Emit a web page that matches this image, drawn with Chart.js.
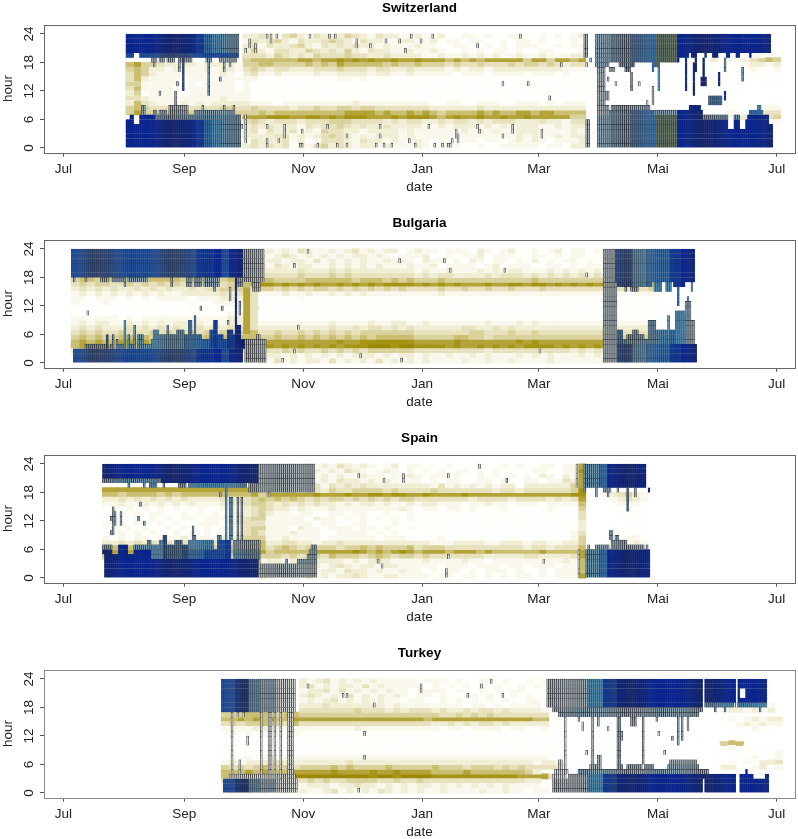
<!DOCTYPE html>
<html>
<head>
<meta charset="utf-8">
<title>hour by date</title>
<script src="https://cdn.jsdelivr.net/npm/chart.js@4"></script>
<style>
  html, body { margin: 0; background: #fff; }
  canvas { display: block; }
</style>
</head>
<body>
<canvas id="c0" width="798" height="215"></canvas>
<canvas id="c1" width="798" height="215"></canvas>
<canvas id="c2" width="798" height="215"></canvas>
<canvas id="c3" width="798" height="194"></canvas>
<script>
const hourTicks = [0, 6, 12, 18, 24];
const dateTicks = [0, 62, 123, 184, 244, 305, 366];
const dateLabels = ['Jul', 'Sep', 'Nov', 'Jan', 'Mar', 'Mai', 'Jul'];

// olive intensity, one string per hour (23 at the top), one digit per 4 days
const swissStart = 32;
const swissOlive = [
  '000000000000000334324532433354324332232231122121122112121230001000100000000000000000',
  '000000000000000243453243345432433223322312212211212212111210010000100000000000000000',
  '000000000000000342433453243434332322232211221121212221121220000100000100000000000000',
  '000000000000000353244335434353243322322321121212212112211120010000000100000000000000',
  '000000000000000444354343544454433433332232232323223223222330000100000001000100012200',
  '000000000000000566666677677878787787787776767677777577577670000000000000000312234565',
  '675543333233332556655556565766666565565554544544454554543440000000000000100101123323',
  '565332322232332454344333444544434433433332323323333333332220000000000000010001002112',
  '465322222222321342232222322333323322322222122212222122212110000000000000010010001011',
  '463222212222222221111111111221211111111111111111111111111110001000000000000010010101',
  '552222212122221211111011111111111111011101101111110111011110000000000100000100100011',
  '462222112222221211010101111111010111011011010111011101101110000000001000000000000000',
  '351222112222222211111011101110111111101010101101110110110110000000000000100000100000',
  '443222222222322211111111111111111111111111111111111111111110000000000000000001000000',
  '364322232323333322212222222223222222222112211222112221212220000000000000000000000001',
  '565444444444554454444344544554554444444333333433333333333330000000000000001001001222',
  '575555555555555556566666666677776766767656666767667767766660000000000000000002102344',
  '000000000000000777888778878788877787888767877877877877777550000000000000000002334445',
  '000000000000000454344434445554444343443343443434443334332440000000000000000000000022',
  '000000000000000343433324344543433433332232333232323332232330000000000000000000000001',
  '000000000000000342433423254433233332322222232323223332222320000000000000000000000000',
  '000000000000000333344232345432323332322222222222223232232330000000000000000000000000',
  '000000000000000243334231244432433232232122122122123232122230000000000000000000000000',
  '000000000000000343434132453432332322232112211211222221221330000000000000000000000000'
];
// [first day, last day, level]
const swissShades = [[32, 67, 9], [68, 71, 8], [72, 75, 6], [76, 80, 5], [81, 91, 4], [262, 272, 2], [273, 280, 3], [281, 290, 4], [291, 303, 6], [304, 314, 10], [315, 364, 9]];
// outlined cells: [first day, last day, first hour, last hour, level]
const swissBoxes = [
  [32, 89, 20, 23], [32, 35, 19, 19, 7], [39, 89, 19, 19, 7], [45, 47, 18, 18, 2], [49, 51, 18, 18, 2], [53, 56, 18, 18, 2], [59, 65, 18, 18, 3], [73, 75, 18, 18, 3], [80, 88, 18, 18, 2],
  [46, 46, 17, 17, 2], [59, 59, 16, 17, 2], [82, 82, 16, 17, 2], [85, 85, 17, 17, 2], [61, 61, 12, 18, 7], [74, 74, 11, 17, 4], [80, 80, 14, 14, 3], [58, 58, 13, 13, 2], [49, 49, 11, 11, 2], [57, 57, 9, 11, 3],
  [32, 35, 0, 5], [36, 38, 0, 4], [39, 90, 0, 5], [34, 35, 6, 6], [39, 46, 6, 6], [47, 90, 6, 6, 4], [40, 41, 7, 8, 3], [46, 47, 7, 7, 3], [49, 52, 7, 7, 3], [54, 63, 7, 7, 3], [54, 63, 8, 8, 2], [67, 77, 7, 7, 3], [71, 71, 8, 8, 2], [78, 87, 7, 7, 3], [82, 82, 8, 8, 2], [87, 87, 8, 8, 2],
  [91, 91, 4, 4, 1], [93, 93, 1, 6, 1], [93, 93, 20, 20, 1], [95, 95, 21, 22, 1], [98, 98, 20, 21, 1], [104, 104, 23, 23, 1], [106, 106, 22, 23, 1], [109, 109, 23, 23, 1], [126, 126, 23, 23, 1], [136, 136, 23, 23, 1], [139, 139, 23, 23, 1], [150, 150, 21, 22, 1], [157, 157, 21, 21, 1], [165, 165, 22, 22, 1], [172, 172, 22, 22, 1],
  [104, 104, 4, 4, 1], [104, 104, 0, 1, 1], [110, 110, 1, 1, 1], [113, 113, 2, 4, 1], [122, 122, 3, 3, 1], [121, 122, 0, 0, 1], [130, 130, 0, 0, 1], [135, 135, 4, 4, 1], [140, 140, 0, 0, 1], [145, 145, 2, 2, 1], [145, 145, 0, 0, 1], [160, 160, 0, 0, 1], [162, 162, 4, 4, 1], [162, 162, 2, 2, 1], [164, 164, 0, 0, 1], [168, 168, 0, 0, 1],
  [178, 178, 23, 23, 1], [183, 183, 22, 22, 1], [189, 189, 23, 23, 1], [175, 175, 20, 20, 1], [212, 212, 21, 21, 1], [234, 234, 23, 23, 1], [255, 255, 17, 17, 1], [268, 268, 17, 17, 1], [225, 225, 13, 13, 1], [238, 238, 13, 13, 1], [249, 249, 10, 10, 1],
  [187, 187, 4, 4, 1], [177, 177, 1, 1, 1], [180, 180, 0, 0, 1], [190, 190, 0, 0, 1], [194, 194, 0, 0, 1], [197, 198, 0, 0, 1], [199, 199, 1, 1, 1], [201, 201, 2, 3, 1], [202, 202, 1, 2, 1], [212, 212, 4, 4, 1], [213, 213, 3, 3, 1], [225, 225, 2, 2, 1], [230, 230, 3, 4, 1], [245, 245, 2, 3, 1],
  [267, 268, 19, 23, 2], [268, 269, 0, 5, 2], [270, 270, 18, 18, 2],
  [273, 315, 19, 23], [273, 315, 18, 18], [273, 279, 17, 17], [285, 292, 17, 17], [302, 305, 17, 17], [288, 290, 16, 16], [274, 277, 9, 16, 2], [279, 279, 14, 14, 2], [280, 282, 16, 16, 2], [283, 283, 13, 13, 1], [291, 291, 12, 15, 4], [295, 295, 13, 13, 1], [299, 299, 9, 9, 1], [302, 302, 9, 12, 2], [302, 302, 16, 16], [305, 305, 12, 16, 5], [278, 279, 10, 11, 2],
  [316, 362, 20, 23], [316, 320, 19, 19], [322, 324, 19, 19], [329, 329, 19, 19], [333, 335, 19, 19], [340, 341, 19, 19], [345, 346, 19, 19], [352, 352, 19, 19], [319, 319, 12, 18], [323, 323, 11, 17], [324, 324, 16, 18], [327, 329, 13, 14], [328, 328, 15, 18], [336, 336, 13, 15], [339, 339, 16, 18, 4], [339, 339, 10, 11], [348, 348, 14, 16, 4], [331, 337, 9, 10, 6],
  [274, 314, 0, 5], [274, 314, 6, 6], [274, 279, 7, 8, 2], [280, 302, 7, 7], [281, 300, 8, 8, 3], [303, 314, 7, 7, 3], [315, 340, 0, 5], [315, 327, 6, 7], [321, 326, 8, 8], [328, 340, 6, 6, 4], [341, 343, 0, 3], [344, 346, 0, 5], [344, 346, 6, 6, 4], [347, 349, 0, 3], [350, 361, 0, 5], [351, 361, 6, 6], [352, 358, 7, 7, 6], [356, 357, 8, 8, 5], [362, 363, 0, 4]
];

const bulgariaStart = 4;
const bulgariaOlive = [
  '00000000000000000000000323232432232342323312322122213212311212312212121211200000000',
  '00000000000000000000000232343232323233232122231121223122211221212211212121100000000',
  '00000000000000000000000323323324232323223232132212132122121312122121212112100000000',
  '00000000000000000000000232432332232323232223223122221231222112212122111212200000000',
  '00000000000000000000000333333433343433333333232232223232332223232323232322300000000',
  '00000000000000000000000444444544454544444444343443333434443434343434343343400000000',
  '56656666566666566655655766555566666656665656555655555555555655555555555555500000000',
  '45455445454545445554566788787878778787878888787878777877887887878787877877600000000',
  '34343433434343343445557455454545545454545454444544544544544454444444444444510000000',
  '23232323232322333334347422232232232323222222222322222222222222222222222122210000000',
  '22122212121222212223337411111211111111111111111111111111111111111111111111110001000',
  '21112111111111121122227411111111011111011101110110111011101101110110111011110000100',
  '11011101011101111111117401010110101110101011010111010101011011010101101011011000000',
  '11111011011011111111227411101111110101111011011011011101101011010110101101100010000',
  '22122212122222222222337411111111111111111111111111111111111111111111111111100001000',
  '23233223232323323232337422222222232222322332232222222322232322222222222222200000000',
  '34343334343434334343447433333333343343443434333333443343433333333333343333300000000',
  '45454454445454454545557644544545454545555555444444455444544544444444544444410000000',
  '56565566565656565656566655655656565656566666555556655455555555555555555555520000000',
  '67676677676767676767677777777777778778888888777778777777787877777777777787720000000',
  '67767677677676776767677878787878787888999899888878778787878888787878787878720000000',
  '33434343434343434343444544454544545454555555444444444344444444443434343434300000000',
  '00000000000000000000002323323232323233323233232232232322232323222323232322300000000',
  '00000000000000000000002232423233242323242323232222322322322223222222322232200000000'
];
const bulgariaShades = [[4, 67, 7], [68, 76, 8], [77, 80, 9], [81, 84, 7], [85, 91, 9], [92, 103, 2], [277, 282, 2], [283, 291, 7], [292, 298, 5], [299, 310, 6], [311, 316, 8], [317, 325, 9]];
const bulgariaBoxes = [
  [4, 102, 18, 23], [5, 5, 17, 17, 3], [11, 11, 17, 17, 3], [19, 22, 17, 17, 3], [25, 30, 17, 17, 3], [31, 31, 16, 17, 3], [33, 42, 17, 17, 3], [55, 55, 16, 17, 3], [63, 65, 16, 17, 3], [67, 70, 16, 17, 3], [72, 79, 16, 17, 3], [77, 77, 15, 15, 3], [85, 85, 13, 15, 2], [88, 91, 16, 17, 3], [97, 100, 15, 17, 2], [92, 102, 17, 17, 2],
  [88, 88, 8, 17, 9], [90, 90, 10, 12, 3], [70, 70, 11, 11, 2], [81, 81, 11, 11, 2], [12, 12, 10, 10, 1], [84, 84, 8, 8, 2],
  [5, 91, 0, 1], [5, 10, 2, 2], [11, 91, 2, 2], [93, 103, 0, 4], [11, 21, 3, 3, 4], [22, 22, 3, 5], [24, 25, 3, 3, 4], [25, 25, 4, 5, 4], [27, 27, 3, 4, 4], [28, 30, 3, 3, 4], [31, 31, 3, 8, 5], [33, 33, 3, 5, 4], [34, 35, 3, 3, 4], [36, 36, 3, 7, 4], [38, 40, 3, 5, 4], [41, 44, 3, 3, 4], [45, 45, 3, 4, 5], [46, 48, 3, 6, 5], [49, 52, 3, 5, 5], [53, 53, 3, 7, 5], [54, 57, 3, 5, 5], [58, 61, 3, 6, 5], [62, 63, 3, 5, 6], [64, 65, 3, 8, 6], [66, 66, 3, 5, 6], [67, 67, 3, 9, 6], [68, 70, 3, 5, 6], [71, 74, 3, 4, 6], [75, 76, 3, 6, 7], [77, 78, 3, 8, 8], [79, 81, 3, 5, 7], [82, 83, 3, 4, 7], [84, 86, 3, 6, 8], [87, 87, 3, 5, 8], [88, 90, 3, 7, 9], [91, 92, 3, 4, 9], [93, 103, 4, 4, 2], [99, 100, 5, 5, 2],
  [125, 125, 23, 23, 1], [118, 118, 20, 20, 1], [120, 120, 7, 7, 1], [118, 118, 2, 2, 1], [112, 112, 0, 0, 1], [152, 152, 1, 1, 1], [172, 172, 21, 21, 1], [195, 195, 21, 21, 1], [198, 198, 19, 19, 1], [226, 226, 19, 19, 1], [268, 268, 18, 18, 1], [244, 244, 2, 2, 1], [173, 173, 0, 0, 1],
  [277, 323, 17, 23], [277, 301, 16, 16], [283, 284, 16, 16], [288, 288, 15, 15, 3], [291, 294, 15, 15, 3], [303, 306, 15, 16, 5], [309, 311, 15, 16, 5], [315, 315, 12, 16, 6], [320, 320, 10, 13, 4], [322, 322, 15, 16, 5], [313, 318, 16, 16],
  [277, 283, 0, 16, 2], [278, 282, 0, 4], [284, 324, 0, 3], [284, 286, 4, 6, 6], [287, 288, 4, 4, 5], [289, 291, 4, 5, 4], [292, 294, 4, 6, 4], [295, 297, 4, 5, 4], [298, 299, 4, 4, 4], [300, 303, 4, 8, 4], [304, 305, 4, 6, 4], [306, 309, 4, 6, 5], [310, 310, 4, 9, 4], [311, 313, 4, 6, 6], [314, 318, 4, 10, 5], [319, 321, 4, 12, 3], [322, 323, 4, 8, 2]
];

const spainStart = 20;
const spainOlive = [
  '000000000000000000002323324232432321231221112111211212112212270000000000',
  '000000000000000000003232432323243212321212121221212111122112280000000000',
  '000000000000000000003432324232322322122321221211212121213213270000000000',
  '000000000000000000002433423232433232321221212211221211221224370000000000',
  '000000000000000000004343433424343433333333242323232331333333570000000000',
  '777777777777777777764545535435445555454444544444443443444444580000000000',
  '665666656566666666675777777877787788788778777787777777777777880023453200',
  '334343434343333434456565654545545454545544444443444434444343470012343200',
  '223223232323222333455434343433232332322323322212232212221222260001222100',
  '121212121211211222345433232223222222223212212212111211111211150000111000',
  '112121221121212123345322122112212211211211101110110111010110140000101000',
  '121121212122122223455222221322121212121201111010110111011010140000010100',
  '212121121211222123444222222122112211121101110101011101001011130000000100',
  '121212112121121222455222132212221221211210111011010110101011130001011000',
  '112121211212121223454222322211222212121101110101101011011010240001010100',
  '212122122232222324555223222212222221222111121111111111111111250001122100',
  '334343434343434345666334433233433333333333222333322333233223350012223200',
  '565656565656565656666456545555455656555645554444444444344344460023232300',
  '676767676767676767777566666777778767678767776777676666667666670000000000',
  '554545554545454545555554545546555456545545444444433333443333470000000000',
  '000000000000000000002332334333323234322223222232212222222223260000000000',
  '000000000000000000003233423323432332332222212221222122122212260000000000',
  '000000000000000000003432433233243323223221212212122212112122260000000000',
  '000000000000000000004323324232334322332222122122121212212122270000000000'
];
const spainShades = [[20, 99, 9], [100, 129, 2], [263, 265, 1], [266, 274, 4], [275, 278, 6], [279, 301, 9]];
const spainBoxes = [
  [20, 99, 21, 23], [20, 50, 21, 21], [20, 23, 20, 20, 4], [24, 49, 20, 20, 4], [50, 99, 20, 20], [33, 33, 19, 20, 4], [41, 41, 19, 19, 4], [44, 47, 19, 19, 4], [51, 51, 19, 19, 4], [59, 62, 19, 19, 4], [64, 93, 19, 19, 5], [95, 99, 18, 19, 3],
  [100, 128, 18, 23], [105, 105, 17, 17, 1], [80, 80, 17, 17, 2],
  [24, 25, 9, 9, 3], [25, 25, 10, 14, 3], [26, 26, 11, 13, 3], [24, 24, 12, 12, 3], [29, 29, 11, 13, 3], [38, 38, 12, 12, 4], [39, 39, 15, 15, 3], [41, 41, 11, 11, 3],
  [21, 100, 0, 3], [21, 24, 4, 5], [20, 24, 5, 5], [20, 24, 6, 6, 4], [25, 27, 4, 4], [28, 32, 4, 6], [33, 35, 4, 4], [36, 42, 4, 5], [36, 42, 6, 6, 4], [43, 44, 4, 5], [43, 44, 6, 7, 4], [45, 48, 4, 6, 5], [49, 50, 4, 7, 5], [51, 52, 4, 8, 7], [53, 56, 4, 6, 6], [57, 60, 4, 7, 6], [61, 63, 4, 6, 7], [64, 76, 4, 5, 6], [64, 76, 6, 7, 5], [66, 66, 8, 10, 4], [67, 67, 8, 8, 4], [72, 78, 4, 5, 7], [79, 82, 4, 7, 7], [79, 80, 8, 8, 4], [83, 83, 4, 7, 8], [83, 83, 8, 18, 5], [84, 84, 4, 7, 8], [85, 85, 4, 7, 8], [85, 86, 8, 16, 4], [87, 100, 4, 5, 5], [87, 100, 6, 7, 3], [89, 89, 8, 16, 4], [91, 91, 8, 16, 4],
  [101, 129, 0, 2], [120, 124, 3, 3, 3], [114, 114, 3, 3, 3], [125, 129, 3, 4, 3], [126, 126, 5, 5, 3], [127, 129, 5, 6, 3],
  [151, 151, 21, 21, 1], [164, 164, 20, 20, 1], [161, 161, 3, 3, 1], [163, 163, 2, 2, 1], [174, 174, 20, 21, 1], [197, 197, 21, 21, 1], [213, 213, 23, 23, 1], [227, 227, 20, 20, 2], [197, 197, 4, 4, 1], [196, 196, 0, 1, 1], [246, 246, 3, 3, 1], [263, 263, 19, 23], [264, 264, 0, 5],
  [267, 298, 20, 23], [267, 298, 19, 19], [267, 267, 18, 18, 4], [273, 273, 17, 18, 3], [277, 280, 18, 18, 3], [279, 279, 17, 17, 3], [284, 284, 18, 18, 3], [289, 289, 14, 18, 6], [293, 293, 17, 18, 3], [300, 300, 18, 18, 9],
  [268, 300, 0, 5], [269, 269, 6, 6, 3], [273, 279, 6, 6, 3], [281, 288, 6, 7, 3], [280, 281, 8, 9, 3], [283, 284, 8, 8, 3], [289, 297, 6, 6, 3], [299, 299, 6, 6, 3]
];

const turkeyStart = 81;
const turkeyOlive = [
  '00000000003234232323222221222121122121121200000000000000000000000000000000',
  '00000000003423233242322222121212121211212100000000000000000000000000000000',
  '00000000002334242323232212222121121212211100000000000000000000000000000000',
  '00000000003432324232323212212112212112121100000000000000000000000000000000',
  '00000000002323423232322122112121212121122100000000000000000000000000000000',
  '0000000000333433333332322222222122121222210000000000000000000000121221200',
  '0000000000444444454443434443433434434333320000000000000000000000233232300',
  '55566655665555555555555555554454545444444400000000000000000000000000000000',
  '66767676677777777777777777677777777777776600000000000000000000001212323300',
  '45455655464444444444444444433434344343333300000000000000000000001123232200',
  '2222332222222222232222222222122122221221120000000000000000000000010121100',
  '1212121212111111111111111110111011101110110000000000000000000000001001000',
  '0101101011011101110110101110101101110110101000000000000000000100101000000',
  '1001011010101110101101011011011011101010100000000000000000000000566000000',
  '1101101111011101101110110111011101110111011000000000000000000001020101000',
  '1111111111111111111111111111111111111111110000000000000000000001001010020',
  '1212123222222222222222222222222222222222221000000000000000000000011021020',
  '2323334433333333433333333333333333333333233200000000000000000000120213340',
  '5454565554555565655556555556555455545454444300000000000000000001330123020',
  '66676766677777877778778777766667666666653000000000000000000000000000000000',
  '66778787899999999998998999988888888888777740000000000000000000000000000000',
  '45454545444545445555445445444444444444433000000000000000000000000000000000',
  '23232323232333233433232323323232323232222000000000000000000000000000000000',
  '23232323323223423232432323223222232232212200000000000000000000000000000000'
];
const turkeyShades = [[81, 87, 7], [88, 94, 8], [95, 100, 5], [101, 108, 3], [109, 120, 1], [248, 268, 2], [269, 276, 5], [277, 283, 8], [284, 362, 9]];
const turkeyBoxes = [
  [81, 118, 17, 23], [89, 89, 16, 16, 1], [92, 92, 16, 16, 1], [86, 86, 3, 16, 1], [90, 90, 3, 6, 1], [94, 94, 10, 11, 1], [101, 101, 3, 16, 1], [105, 106, 3, 16, 1], [108, 108, 3, 16, 1], [111, 111, 3, 16, 1], [115, 117, 3, 16, 1],
  [82, 119, 0, 1], [82, 119, 2, 2], [85, 118, 3, 3, 1],
  [125, 125, 22, 22, 1], [143, 143, 20, 20, 1], [145, 145, 20, 20, 1], [159, 159, 18, 18, 1], [154, 154, 12, 12, 1], [154, 154, 7, 7, 1], [151, 151, 0, 0, 1], [183, 183, 21, 22, 1], [214, 214, 22, 22, 1], [219, 219, 23, 23, 1], [207, 207, 20, 20, 1], [225, 225, 20, 20, 1],
  [248, 327, 18, 23], [329, 344, 19, 23], [346, 346, 19, 23], [347, 349, 22, 23], [350, 360, 19, 23], [347, 349, 19, 19], [329, 360, 18, 18, 5], [344, 345, 18, 18, 0], [251, 327, 17, 17, 3], [254, 325, 16, 16, 3], [339, 339, 17, 17, 4], [334, 334, 17, 17, 4], [357, 357, 17, 17, 4],
  [257, 257, 4, 15, 1], [271, 271, 5, 15, 2], [284, 285, 6, 15, 3], [286, 286, 11, 12, 2], [297, 297, 6, 15, 3], [268, 268, 8, 8, 1], [266, 266, 13, 14, 1], [279, 279, 13, 13, 1], [305, 305, 12, 12, 1], [308, 308, 8, 8, 1], [312, 312, 11, 11, 2], [315, 315, 10, 15, 3], [317, 317, 11, 15, 3], [320, 320, 13, 15, 2], [291, 293, 14, 15, 3], [274, 274, 14, 15, 2], [264, 264, 15, 15, 2], [304, 304, 15, 15, 2],
  [251, 327, 0, 2], [251, 257, 3, 3, 1], [252, 258, 4, 4, 1], [254, 255, 5, 6, 1], [259, 264, 3, 3, 2], [264, 330, 3, 3], [264, 330, 4, 4, 3], [270, 275, 5, 5, 2], [274, 275, 6, 7, 2], [284, 286, 5, 5, 3], [289, 296, 5, 5, 3], [298, 302, 5, 5, 3], [310, 325, 5, 5, 3], [311, 324, 6, 6, 2],
  [329, 330, 0, 2], [331, 333, 0, 3], [334, 344, 0, 3], [347, 349, 0, 3], [350, 350, 4, 4], [351, 353, 0, 3], [354, 356, 0, 2], [357, 359, 0, 2], [360, 361, 0, 3], [350, 350, 0, 3]
];

const oliveColors = ['#ffffff', '#fefefa', '#faf8ec', '#f1eed6', '#e7e2bd', '#dad29c', '#cabf70', '#b4a338', '#a69416', '#9c8805'];
const boxColors = ['#f2f2ee', '#d5d7d5', '#aab6ba', '#8fa9b8', '#6f98b0', '#5086a8', '#386ca0', '#24509a', '#143a92', '#08248c', '#5f7060'];

function shadeOf(shades, day) {
  for (const s of shades) if (day >= s[0] && day <= s[1]) return s[2];
  return 9;
}

function draw(id, title, start, olive, shades, boxes, frame) {
  const canvas = document.getElementById(id);
  const oliveCells = oliveColors.map(() => []);
  olive.forEach((row, i) => {
    const hour = 23 - i;
    [...row].forEach((ch, c) => {
      const lvl = +ch;
      if (lvl > 0) oliveCells[lvl].push({ x: start + 4 * c + 2, y: [hour - 0.03, hour + 1.03] });
    });
  });
  const seen = new Map();
  boxes.forEach(b => {
    for (let d = b[0]; d <= b[1]; d++) {
      for (let h = b[2]; h <= b[3]; h++) {
        seen.set(d + ':' + h, { d, h, lvl: b.length > 4 ? b[4] : shadeOf(shades, d) });
      }
    }
  });
  const boxCells = boxColors.map(() => []);
  seen.forEach(c => boxCells[c.lvl].push({ x: c.d + 0.5, y: [c.h, c.h + 1] }));

  const datasets = [];
  boxCells.forEach((data, i) => datasets.push({
    data, backgroundColor: boxColors[i],
    borderColor: i === 9 ? 'rgba(12,20,70,0.8)' : (i < 5 ? '#1c1c22' : 'rgba(25,25,35,0.85)'),
    borderWidth: i < 5 ? 0.6 : 0.45, barThickness: 1.95, stack: 'all', order: 1
  }));
  oliveCells.forEach((data, i) => {
    if (i > 0) datasets.push({ data, backgroundColor: oliveColors[i], borderWidth: 0, barThickness: 8, stack: 'all', order: 2 });
  });

  const font = { family: '"Liberation Sans", Arial, sans-serif', size: 13.5 };
  new Chart(canvas, {
    type: 'bar',
    data: { datasets },
    options: {
      responsive: false,
      animation: false,
      events: [],
      layout: { padding: { right: 3 } },
      plugins: {
        legend: { display: false },
        tooltip: { enabled: false },
        title: {
          display: true, text: title, color: '#000', fullSize: false,
          font: { ...font, weight: 'bold' }, padding: { top: 0, bottom: 8.3 }
        }
      },
      scales: {
        x: {
          type: 'linear', min: -10, max: 375.4, offset: false,
          grid: { offset: false, drawOnChartArea: false, color: '#555', tickLength: 4 },
          border: { display: false },
          ticks: {
            color: '#222', font, padding: 4, autoSkip: false, maxRotation: 0,
            callback: v => dateLabels[dateTicks.indexOf(v)]
          },
          title: { display: true, text: 'date', color: '#222', font, padding: { top: 0, bottom: canvas.height - 187 - 8.1 } },
          afterBuildTicks: s => { s.ticks = dateTicks.map(v => ({ value: v })); },
          afterFit: s => { s.height = canvas.height - 152.7; }
        },
        y: {
          min: -1, max: 26, stacked: false,
          grid: { drawOnChartArea: false, color: '#555', tickLength: 4 },
          border: { display: false },
          ticks: { color: '#222', font, padding: 3.2, minRotation: 90, maxRotation: 90, crossAlign: 'center', autoSkip: false },
          title: { display: true, text: 'hour', color: '#222', font, padding: 0 },
          afterBuildTicks: s => { s.ticks = hourTicks.map(v => ({ value: v })); },
          afterFit: s => { s.width = 44; }
        }
      }
    },
    plugins: [{
      id: 'box',
      afterDraw(chart) {
        const a = chart.chartArea, ctx = chart.ctx;
        ctx.save();
        ctx.strokeStyle = frame;
        ctx.lineWidth = 1;
        ctx.strokeRect(Math.round(a.left) + 0.5, Math.round(a.top) + 0.5, Math.round(a.width), Math.round(a.height));
        ctx.restore();
      }
    }]
  });
}

draw('c0', 'Switzerland', swissStart, swissOlive, swissShades, swissBoxes, '#666');
draw('c1', 'Bulgaria', bulgariaStart, bulgariaOlive, bulgariaShades, bulgariaBoxes, '#666');
draw('c2', 'Spain', spainStart, spainOlive, spainShades, spainBoxes, '#666');
draw('c3', 'Turkey', turkeyStart, turkeyOlive, turkeyShades, turkeyBoxes, '#888');
</script>
</body>
</html>
